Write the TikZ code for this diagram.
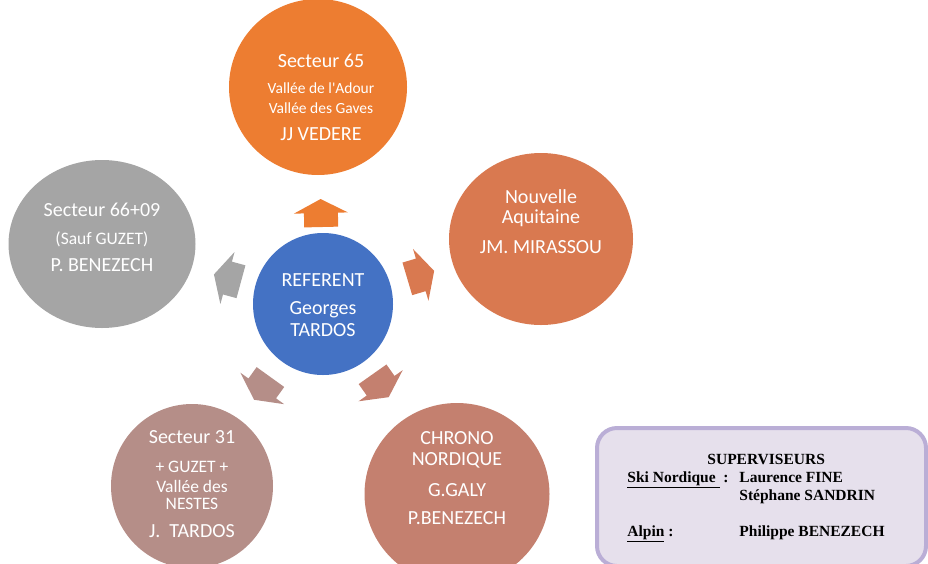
\documentclass[tikz,border=0pt]{standalone}
\usepackage{fontspec}
\setmainfont{Carlito}
\newfontfamily\boxfont{Liberation Serif}
\usetikzlibrary{calc,shapes.geometric}

\definecolor{c65}{RGB}{237,125,49}
\definecolor{cnaq}{RGB}{217,121,80}
\definecolor{cchrono}{RGB}{196,128,111}
\definecolor{c31}{RGB}{181,142,136}
\definecolor{c66}{RGB}{165,165,165}
\definecolor{refblue}{RGB}{68,114,196}
\definecolor{boxfill}{RGB}{230,224,236}
\definecolor{boxedge}{RGB}{186,174,214}

\tikzset{
  sector/.style={ellipse,inner sep=0pt},
  every label/.style={text=white,align=center,font=\fontsize{20}{24}\selectfont},
}

\newcommand{\smalltxt}[1]{{\fontsize{15.5}{19}\selectfont #1}}
\newcommand{\midtxt}[1]{{\fontsize{17.5}{21}\selectfont #1}}

% block arrow from the referent towards one sector
\newcommand{\spoke}[3]{%
  \pgfmathanglebetweenpoints{\pgfpointanchor{ref}{center}}{\pgfpointanchor{#1}{center}}%
  \let\spokeangle\pgfmathresult
  \fill[#2,shift={($(ref)!#3pt!(#1)$)},rotate=\spokeangle]
    (-14,-17) -- (0,-17) -- (0,-27) -- (14,0) -- (0,27) -- (0,17) -- (-14,17) -- cycle;}

\begin{document}
\begin{tikzpicture}[x=1pt,y=-1pt]
    \useasboundingbox (0,0) rectangle (928,563);

    % Nodes
    \node (ref) at (323,304) [sector,fill=refblue,minimum width=140,minimum height=142,
      label={[yshift=-1.5pt]center:{REFERENT\\[4pt]Georges\\[-2pt]TARDOS}}] {};
    \node (s65) at (318,87) [sector,fill=c65,minimum width=178,minimum height=176,
      label={[yshift=-10pt,xshift=3pt]center:{Secteur 65\\[2pt]\smalltxt{Vallée de l\textquotesingle Adour}\\[-4pt]\smalltxt{Vallée des Gaves}\\[3pt]JJ VEDERE}}] {};
    \node (naq) at (541,239) [sector,fill=cnaq,minimum width=184,minimum height=172,
      label={[yshift=17.5pt]center:{Nouvelle\\[-4pt]Aquitaine\\[6pt]JM. MIRASSOU}}] {};
    \node (chrono) at (457,494) [sector,fill=cchrono,minimum width=185,minimum height=182,
      label={[yshift=15.5pt]center:{CHRONO\\[-3pt]NORDIQUE\\[7pt]G.GALY\\[4pt]P.BENEZECH}}] {};
    \node (s31) at (192,486) [sector,fill=c31,minimum width=162,minimum height=164,
      label={[yshift=2pt]center:{Secteur 31\\[5pt]\midtxt{+ GUZET +}\\[-4pt]\midtxt{Vallée des}\\[-7pt]\midtxt{NESTES}\\[4pt]J.\ \ TARDOS}}] {};
    \node (s66) at (102,244) [sector,fill=c66,minimum width=187,minimum height=168,
      label={[yshift=6.5pt]center:{Secteur 66+09\\[4pt]\midtxt{(Sauf GUZET)}\\[3pt]P. BENEZECH}}] {};

    % Arrows
    \spoke{s65}{c65}{91}
    \spoke{naq}{cnaq}{102}
    \spoke{chrono}{cchrono}{100}
    \spoke{s31}{c31}{104}
    \spoke{s66}{c66}{99}

    % Supervisors
    \node (sup) at (761.5,497) [draw=boxedge,fill=boxfill,line width=4pt,rounded corners=20pt,
      minimum width=329,minimum height=138,font=\boxfont\bfseries\fontsize{15.5}{18}\selectfont]
      {\begin{tabular}{@{}p{112pt}@{}l@{\hspace{11pt}}}
        \multicolumn{2}{@{}l}{\hspace*{80pt}SUPERVISEURS}\\
        \underline{Ski Nordique\ } : & Laurence FINE\\
        & Stéphane SANDRIN\\
        \\
        \underline{Alpin} : & Philippe BENEZECH
      \end{tabular}};
\end{tikzpicture}
\end{document}
